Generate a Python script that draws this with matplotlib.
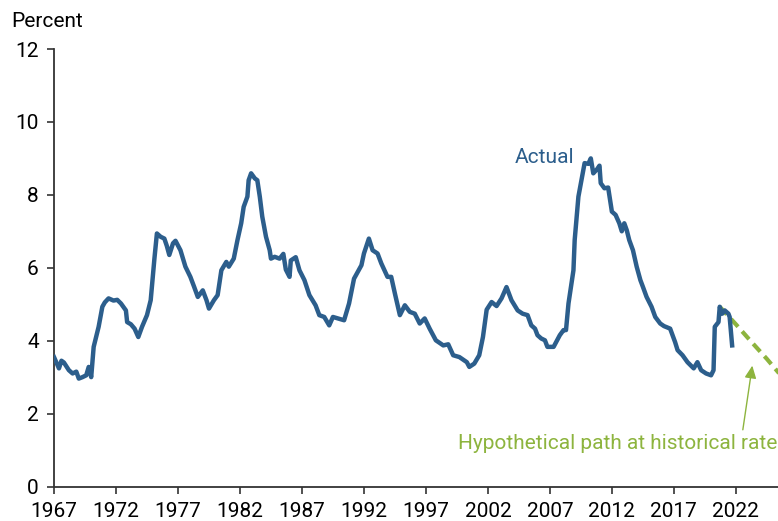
import matplotlib.pyplot as plt

plt.rcParams['font.family'] = ['Roboto', 'DejaVu Sans']

# actual series (year, percent)
years = [1967.0, 1967.4, 1967.6, 1967.8, 1968.2, 1968.5, 1968.8, 1969.0, 1969.3, 1969.6,
         1969.8, 1970.0, 1970.2, 1970.6, 1970.9, 1971.1, 1971.4, 1971.8, 1972.1, 1972.4,
         1972.8, 1972.9, 1973.2, 1973.5, 1973.8, 1974.1, 1974.5, 1974.8, 1975.1, 1975.3,
         1975.6, 1975.9, 1976.1, 1976.3, 1976.6, 1976.8, 1977.2, 1977.6, 1978.0, 1978.3,
         1978.6, 1979.0, 1979.3, 1979.5, 1979.9, 1980.2, 1980.5, 1980.9, 1981.1, 1981.5,
         1981.8, 1982.1, 1982.3, 1982.6, 1982.7, 1982.9, 1983.2, 1983.4, 1983.6, 1983.8,
         1984.1, 1984.4, 1984.5, 1984.8, 1985.2, 1985.5, 1985.7, 1986.0, 1986.1, 1986.5,
         1986.8, 1987.2, 1987.6, 1988.1, 1988.4, 1988.8, 1989.2, 1989.5, 1989.9, 1990.4,
         1990.8, 1991.2, 1991.8, 1992.0, 1992.4, 1992.7, 1993.1, 1993.4, 1993.9, 1994.2,
         1994.5, 1994.9, 1995.3, 1995.7, 1996.1, 1996.5, 1996.9, 1997.3, 1997.8, 1998.4,
         1998.8, 1999.2, 1999.7, 2000.3, 2000.5, 2000.9, 2001.3, 2001.6, 2001.9, 2002.3,
         2002.7, 2003.1, 2003.5, 2003.9, 2004.4, 2004.8, 2005.2, 2005.5, 2005.8, 2006.0,
         2006.3, 2006.6, 2006.8, 2007.3, 2007.5, 2007.8, 2008.1, 2008.3, 2008.5, 2008.9,
         2009.0, 2009.3, 2009.6, 2009.8, 2010.1, 2010.3, 2010.5, 2010.8, 2011.0, 2011.1,
         2011.4, 2011.7, 2012.0, 2012.3, 2012.6, 2012.8, 2013.0, 2013.2, 2013.4, 2013.7,
         2014.0, 2014.3, 2014.5, 2014.8, 2015.2, 2015.5, 2015.9, 2016.2, 2016.7, 2017.1,
         2017.3, 2017.7, 2018.1, 2018.6, 2018.9, 2019.2, 2019.6, 2020.0, 2020.2, 2020.3,
         2020.6, 2020.7, 2020.9, 2021.1, 2021.4, 2021.5, 2021.7]
actual = [3.55, 3.24, 3.45, 3.40, 3.19, 3.10, 3.15, 2.96, 3.00, 3.05,
          3.28, 3.00, 3.83, 4.38, 4.93, 5.05, 5.16, 5.10, 5.12, 5.02,
          4.83, 4.51, 4.45, 4.33, 4.10, 4.38, 4.70, 5.11, 6.25, 6.94,
          6.85, 6.80, 6.60, 6.35, 6.67, 6.74, 6.48, 6.03, 5.75, 5.48,
          5.20, 5.38, 5.11, 4.88, 5.11, 5.25, 5.93, 6.16, 6.03, 6.25,
          6.76, 7.22, 7.67, 7.95, 8.40, 8.59, 8.45, 8.40, 7.95, 7.40,
          6.85, 6.48, 6.25, 6.30, 6.25, 6.38, 5.95, 5.75, 6.20, 6.29,
          5.93, 5.66, 5.25, 4.97, 4.70, 4.65, 4.42, 4.65, 4.61, 4.56,
          5.02, 5.70, 6.07, 6.39, 6.80, 6.48, 6.39, 6.12, 5.75, 5.75,
          5.29, 4.70, 4.97, 4.79, 4.74, 4.47, 4.61, 4.33, 4.01, 3.87,
          3.90, 3.60, 3.55, 3.41, 3.28, 3.37, 3.60, 4.10, 4.85, 5.06,
          4.95, 5.16, 5.47, 5.11, 4.83, 4.74, 4.70, 4.42, 4.33, 4.15,
          4.06, 4.01, 3.83, 3.83, 3.96, 4.15, 4.29, 4.29, 5.02, 5.93,
          6.76, 7.95, 8.50, 8.87, 8.85, 9.00, 8.59, 8.70, 8.80, 8.32,
          8.18, 8.20, 7.54, 7.45, 7.22, 7.00, 7.22, 7.03, 6.76, 6.48,
          6.03, 5.66, 5.48, 5.20, 4.93, 4.65, 4.47, 4.40, 4.33, 3.96,
          3.74, 3.60, 3.41, 3.24, 3.41, 3.19, 3.10, 3.05, 3.19, 4.38,
          4.51, 4.93, 4.74, 4.83, 4.74, 4.65, 3.87]

# hypothetical path
hyp_years = [2020.7, 2022.0, 2023.3, 2024.5, 2025.5]
hyp_values = [4.93, 4.45, 3.95, 3.50, 3.10]

x_ticks = list(range(1967, 2023, 5))
y_ticks = [0, 2, 4, 6, 8, 10, 12]

blue = '#2c5e8c'
green = '#8db43e'

fig = plt.figure(figsize=(7.78, 5.21), dpi=100)
ax = fig.add_axes([54 / 778, 1 - 486.5 / 521, 1 - 54 / 778, (486.5 - 49) / 521])

ax.plot(years, actual, color=blue, lw=3.2, solid_joinstyle='round', zorder=3)
ax.plot(hyp_years, hyp_values, color=green, lw=3.0, dashes=(2.5, 1.5), zorder=2)

ax.set_xlim(1967, 2025.4)
ax.set_ylim(0, 12)
ax.set_xticks(x_ticks)
ax.set_yticks(y_ticks)
ax.tick_params(labelsize=15, length=5, width=1.2, color='#333333', pad=6)
for side in ['top', 'right']:
    ax.spines[side].set_visible(False)
for side in ['left', 'bottom']:
    ax.spines[side].set_color('#333333')
    ax.spines[side].set_linewidth(1.3)

fig.text(11 / 778, 1 - 27 / 521, 'Percent', fontsize=15, ha='left', va='baseline')
ax.text(2004.15, 8.87, 'Actual', color=blue, fontsize=15, ha='left', va='baseline')
ax.text(1999.55, 1.03, 'Hypothetical path at historical rate', color=green,
        fontsize=15, ha='left', va='baseline')
ax.annotate('', xy=(2023.36, 3.39), xytext=(2022.53, 1.48),
            arrowprops=dict(arrowstyle='-|>,head_length=0.75,head_width=0.35',
                            color=green, lw=1.0))

fig.savefig('out.png', dpi=100)
